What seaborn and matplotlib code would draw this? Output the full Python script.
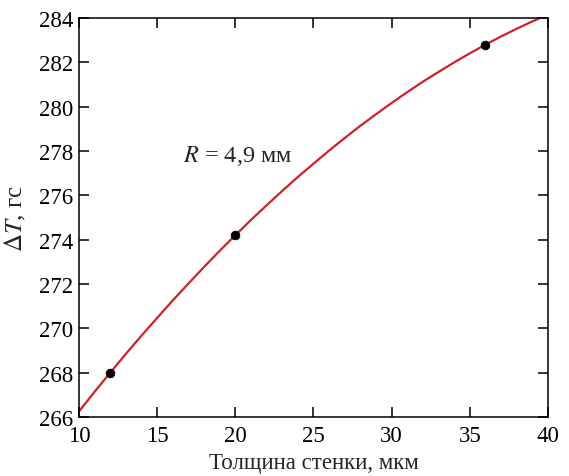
import seaborn as sns
import matplotlib.pyplot as plt
import pandas as pd

# curve (one value per micrometre)
curve_x = list(range(10, 41))
curve_y = [266.25, 267.14, 268.00, 268.85, 269.67, 270.47, 271.26, 272.02,
           272.77, 273.50, 274.20, 274.89, 275.55, 276.20, 276.83, 277.43,
           278.02, 278.59, 279.14, 279.66, 280.17, 280.66, 281.13, 281.57,
           282.00, 282.41, 282.80, 283.17, 283.52, 283.85, 284.16]

# measured points
point_x = [12, 20, 36]
point_y = [268.0, 274.2, 282.8]

x_ticks = [10, 15, 20, 25, 30, 35, 40]
y_ticks = [266, 268, 270, 272, 274, 276, 278, 280, 282, 284]

sns.set_style("ticks")
plt.rcParams['font.family'] = ['Liberation Serif', 'DejaVu Serif']
plt.rcParams['mathtext.fontset'] = 'stix'

curve = pd.DataFrame({'x': curve_x, 'y': curve_y})
points = pd.DataFrame({'x': point_x, 'y': point_y})

fig = plt.figure(figsize=(5.69, 4.77), dpi=100)
ax = fig.add_axes([0.1388, 0.1237, 0.8242, 0.8363])

sns.lineplot(data=curve, x='x', y='y', color='#d0202a', linewidth=1.6, ax=ax)
sns.scatterplot(data=points, x='x', y='y', color='black', s=40,
                edgecolor='black', zorder=3, ax=ax)

ax.set_xlim(10, 40)
ax.set_ylim(266, 284)
ax.set_xticks(x_ticks)
ax.set_yticks(y_ticks)
ax.tick_params(direction='in', length=7, width=1.1, top=True, right=True,
               labelsize=16.5, colors='black')
ax.tick_params(axis='x', pad=6)
ax.tick_params(axis='y', pad=4)
for sp in ax.spines.values():
    sp.set_linewidth(1.1)
    sp.set_color('black')

ax.text(16.65, 277.8, r'$R$ = 4,9 мм', fontsize=17.5, va='center', ha='left')
ax.set_xlabel('Толщина стенки, мкм', fontsize=16.5, labelpad=4)
ax.set_ylabel(r'$\Delta T$, гс', fontsize=18, labelpad=8)

fig.savefig('out.png', dpi=100)
